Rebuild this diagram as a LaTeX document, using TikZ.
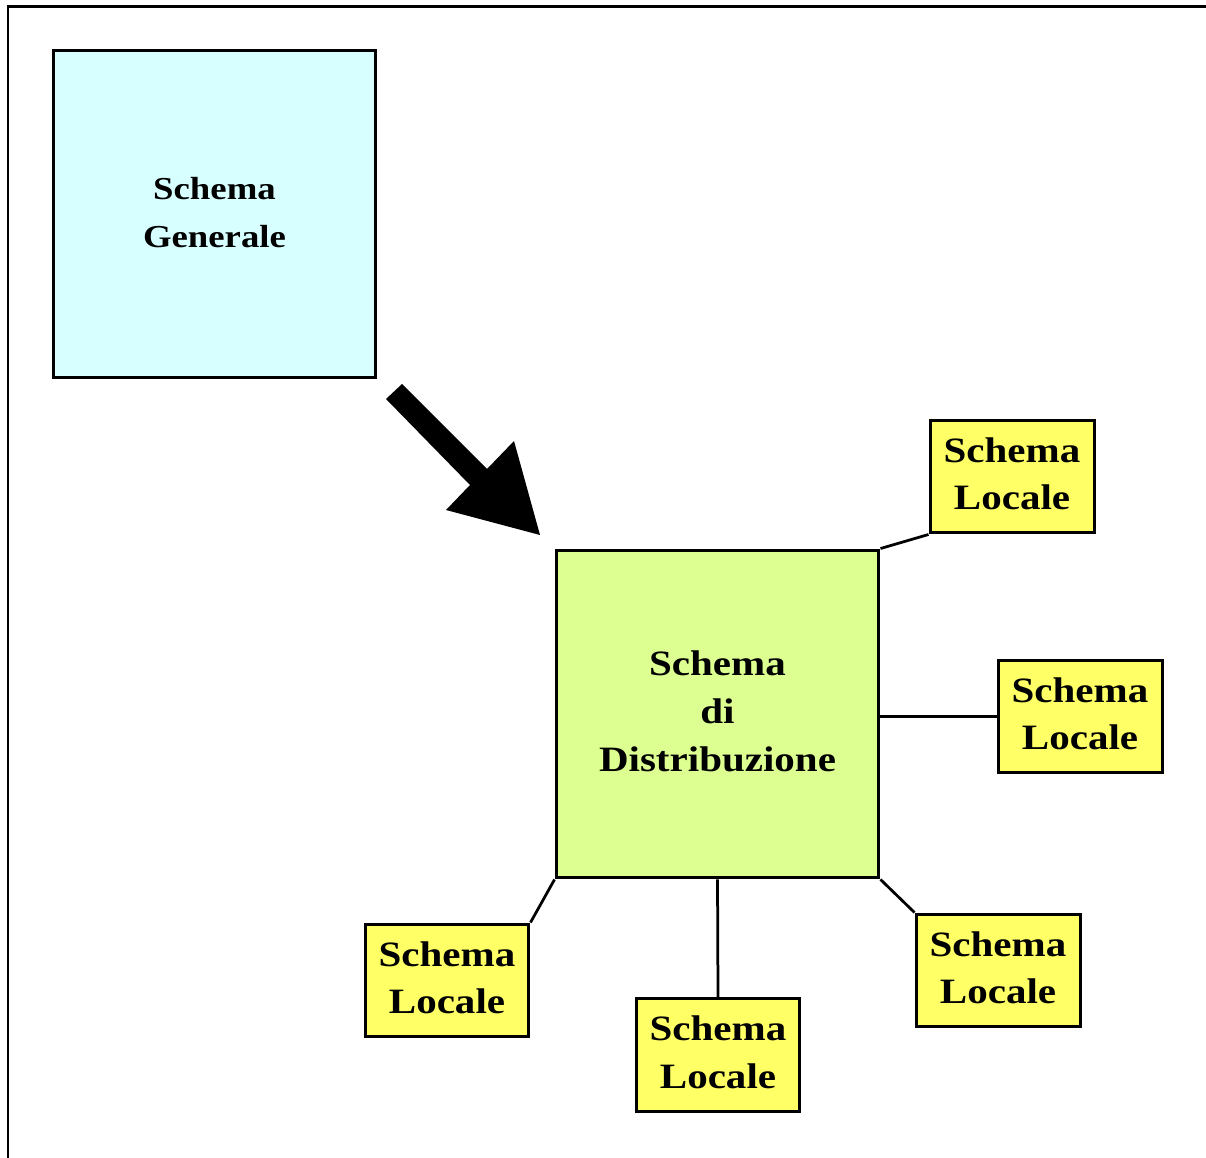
\documentclass[tikz,border=0pt]{standalone}
\usepackage{fontspec}
\setmainfont{Liberation Serif}
\usepackage{graphicx}
\definecolor{genfill}{RGB}{215,255,255}
\definecolor{distfill}{RGB}{221,255,145}
\definecolor{locfill}{RGB}{255,255,102}
% widened bold label, lines centred
\newcommand{\boxlabel}[2]{\scalebox{1.15}[1]{\fontsize{#1}{27.2}\selectfont\bfseries\begin{tabular}{@{}c@{}}#2\end{tabular}}}
\begin{document}
\begin{tikzpicture}[x=0.02cm,y=-0.02cm,
  frameline/.style={line width=0.06cm},
  bigbox/.style={draw,line width=0.06cm,minimum width=6.46cm,minimum height=6.56cm,inner sep=0pt},
  locbox/.style={draw,line width=0.06cm,fill=locfill,minimum width=3.28cm,minimum height=2.26cm,inner sep=0pt},
  link/.style={line width=0.055cm}]
\useasboundingbox (0,0) rectangle (1206,1158);
% frame: top and left edges only
\draw[frameline] (8,1158) -- (8,7) -- (1206,7);

\node[bigbox,fill=genfill] (gen) at (214.5,214) {\boxlabel{18.2}{Schema\\Generale}};
\node[bigbox,fill=distfill] (dist) at (717.5,714) {\boxlabel{20.3}{Schema\\di\\Distribuzione}};

\node[locbox] (loc1) at (1012,476.5) {\boxlabel{20.3}{Schema\\Locale}};
\node[locbox] (loc2) at (1080,716.5) {\boxlabel{20.3}{Schema\\Locale}};
\node[locbox] (loc3) at (998,970.5) {\boxlabel{20.3}{Schema\\Locale}};
\node[locbox] (loc4) at (718,1055) {\boxlabel{20.3}{Schema\\Locale}};
\node[locbox] (loc5) at (447,980.5) {\boxlabel{20.3}{Schema\\Locale}};

\draw[link] (dist.north east) -- (loc1.south west);
\draw[link] (dist.east |- loc2.west) -- (loc2.west);
\draw[link] (dist.south east) -- (loc3.north west);
\draw[link] (dist.south) -- (loc4.north);
\draw[link] (dist.south west) -- (loc5.north east);

% block arrow from the general schema towards the distribution schema
\fill (402,384) -- (487,469) -- (514,441) -- (540,535) -- (446,510) -- (470,485) -- (386,399) -- cycle;
\end{tikzpicture}
\end{document}
